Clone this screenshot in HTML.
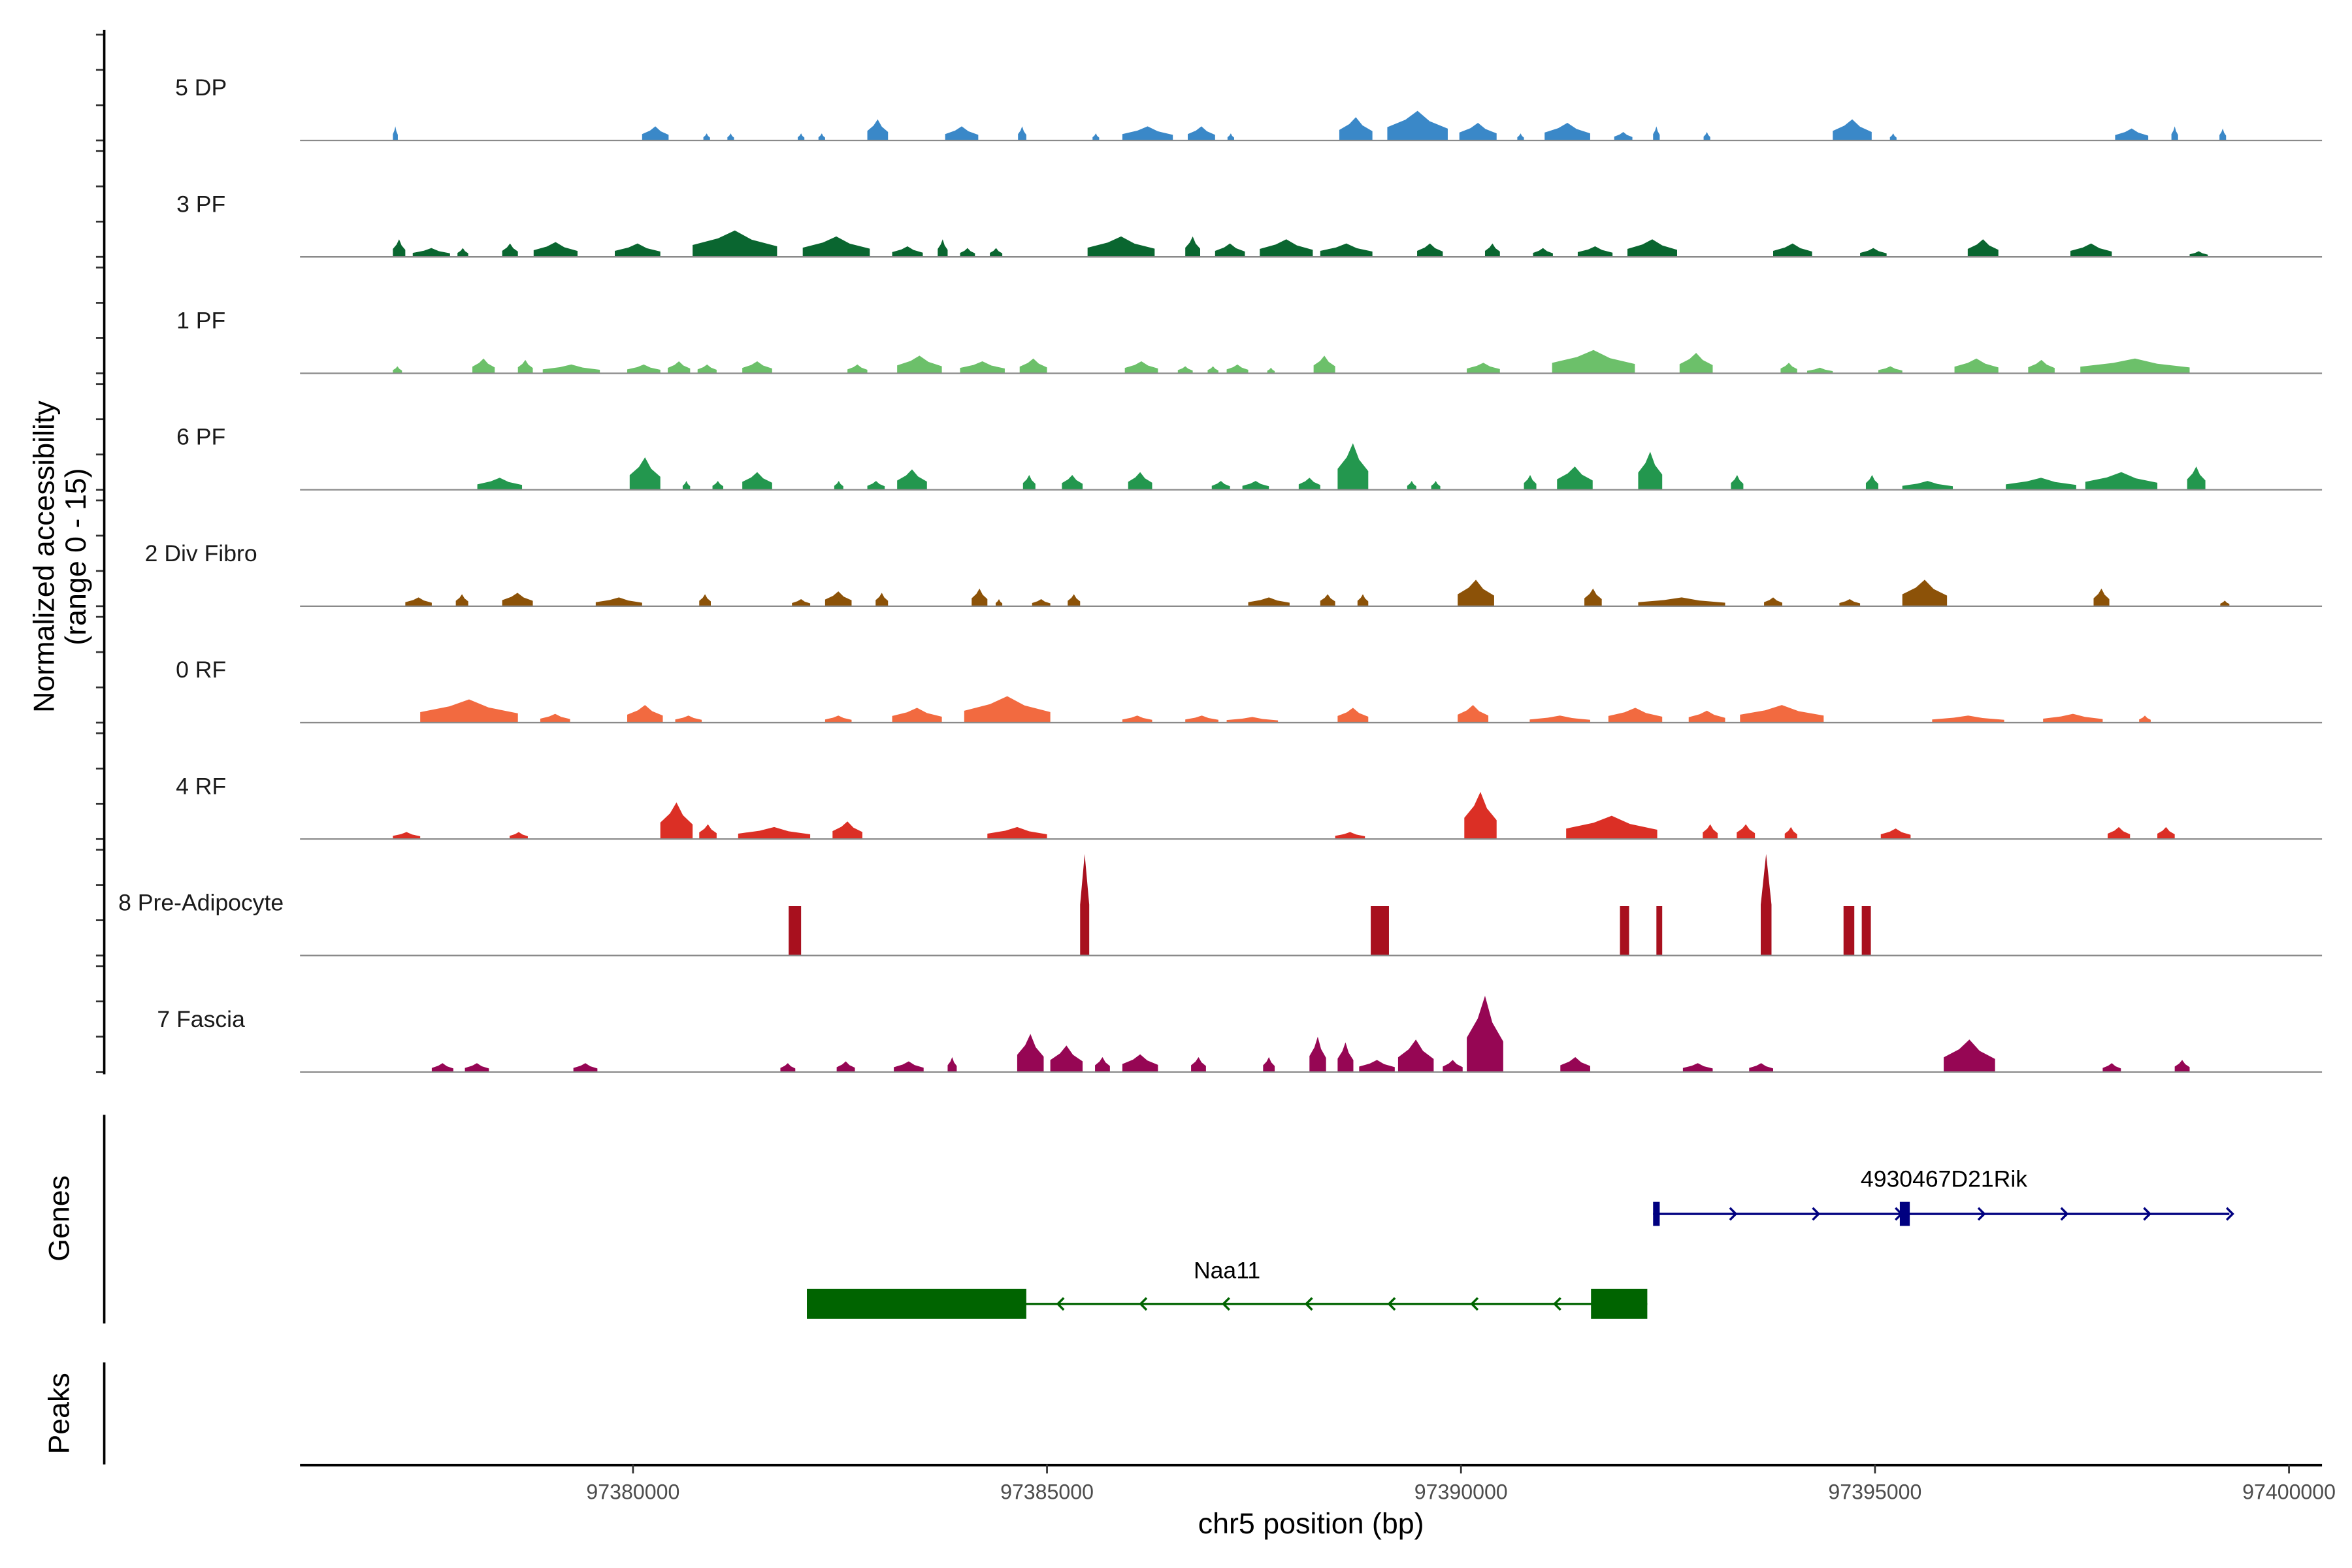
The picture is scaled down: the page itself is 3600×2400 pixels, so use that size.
<!DOCTYPE html>
<html><head><meta charset="utf-8"><style>
html,body{margin:0;padding:0;background:#fff;}
svg{display:block;font-family:"Liberation Sans",Arial,sans-serif;}
</style></head><body>
<svg id="chart" width="3600" height="2400" viewBox="0 0 1568 1045" preserveAspectRatio="none" xmlns="http://www.w3.org/2000/svg">
<rect x="0" y="0" width="1568" height="1045" fill="#fff"/>
<g id="tracks"></g>
<g id="axes"></g>
</svg>
<script>
// Track data: peaks as [start kb offset from 97380000, end kb offset, height (0-15 scale)]
const trackNames = ["5 DP","3 PF","1 PF","6 PF","2 Div Fibro","0 RF","4 RF","8 Pre-Adipocyte","7 Fascia"];
const trackColors = ["#3a88c8","#0a6630","#6cc06a","#23974e","#8c5208","#f26a40","#db2f25","#a8101e","#960654"];
const peaks5DP = [[-2.90,-2.84,2],[0.11,0.43,2],[0.85,0.93,1],[1.14,1.22,1],[1.99,2.07,1],[2.24,2.32,1],[2.83,3.08,3],[3.77,4.17,2],[4.65,4.75,2],[5.55,5.63,1],[5.91,6.52,2],[6.70,7.03,2],[7.18,7.26,1],[8.53,8.93,3.3],[9.11,9.84,4.2],[9.98,10.43,2.5],[10.68,10.76,1],[11.01,11.56,2.5],[11.85,12.07,1.2],[12.32,12.40,2],[12.93,13.01,1.2],[14.49,14.96,3],[15.18,15.26,1],[17.90,18.30,1.7],[18.58,18.66,2],[19.16,19.24,1.7]];
const peaks3PF = [[-2.90,-2.75,2.5],[-2.66,-2.21,1.25],[-2.12,-1.99,1.25],[-1.58,-1.39,1.9],[-1.20,-0.67,2.1],[-0.22,0.33,1.9],[0.72,1.74,3.75],[2.05,2.86,2.9],[3.13,3.50,1.5],[3.68,3.80,2.5],[3.95,4.13,1.25],[4.31,4.46,1.25],[5.49,6.30,2.9],[6.67,6.85,2.9],[7.03,7.39,1.9],[7.57,8.21,2.5],[8.30,8.93,1.9],[9.47,9.78,1.9],[10.29,10.47,1.9],[10.87,11.11,1.25],[11.41,11.83,1.5],[12.01,12.61,2.5],[13.77,14.24,1.9],[14.82,15.14,1.25],[16.12,16.49,2.5],[17.36,17.86,1.9],[18.80,19.02,0.8]];
const peaks1PF = [[-2.90,-2.79,1],[-1.94,-1.67,2.1],[-1.39,-1.21,1.9],[-1.09,-0.40,1.25],[-0.07,0.33,1.25],[0.42,0.69,1.7],[0.78,1.01,1.25],[1.32,1.68,1.7],[2.59,2.83,1.25],[3.19,3.73,2.5],[3.95,4.49,1.7],[4.67,5.00,2.1],[5.94,6.34,1.7],[6.58,6.76,1],[6.94,7.07,1],[7.17,7.43,1.25],[7.66,7.75,0.8],[8.22,8.48,2.5],[10.07,10.47,1.5],[11.10,12.10,3.3],[12.64,13.04,2.9],[13.86,14.06,1.5],[14.18,14.49,0.8],[15.04,15.33,1],[15.96,16.49,2.1],[16.85,17.17,1.9],[17.48,18.80,2.1]];
const peaks6PF = [[-1.88,-1.34,1.7],[-0.04,0.33,4.6],[0.60,0.69,1.25],[0.96,1.09,1.25],[1.32,1.68,2.5],[2.43,2.54,1.25],[2.83,3.04,1.25],[3.19,3.55,2.9],[4.71,4.86,2.1],[5.18,5.43,2.1],[5.98,6.27,2.5],[6.99,7.21,1.25],[7.36,7.68,1.25],[8.04,8.30,1.7],[8.51,8.88,6.6],[9.35,9.46,1.25],[9.64,9.75,1.25],[10.76,10.91,2.1],[11.16,11.59,3.3],[12.14,12.43,5.4],[13.26,13.41,2.1],[14.89,15.04,2.1],[15.33,15.94,1.25],[16.58,17.43,1.7],[17.54,18.41,2.5],[18.77,18.99,3.3]];
const peaksDivFibro = [[-2.75,-2.43,1.25],[-2.14,-1.99,1.7],[-1.58,-1.21,1.9],[-0.45,0.11,1.25],[0.80,0.94,1.7],[1.92,2.14,1],[2.32,2.64,2.1],[2.93,3.08,1.9],[4.09,4.28,2.5],[4.38,4.46,1],[4.82,5.04,1],[5.25,5.40,1.7],[7.43,7.93,1.25],[8.30,8.48,1.7],[8.75,8.88,1.7],[9.96,10.40,3.75],[11.49,11.70,2.5],[12.14,13.19,1.25],[13.66,13.88,1.25],[14.57,14.82,1],[15.33,15.87,3.75],[17.64,17.83,2.5],[19.17,19.28,0.8]];
const peaks0RF = [[-2.57,-1.39,3.3],[-1.12,-0.76,1.25],[-0.07,0.36,2.5],[0.51,0.83,1],[2.32,2.64,1],[3.13,3.73,2.1],[4.00,5.04,3.75],[5.91,6.27,1],[6.67,7.07,1],[7.17,7.79,0.8],[8.51,8.88,2.1],[9.96,10.33,2.5],[10.83,11.56,1],[11.78,12.43,2.1],[12.75,13.19,1.7],[13.37,14.38,2.5],[15.69,16.56,1],[17.03,17.75,1.25],[18.19,18.33,1]];
const peaks4RF = [[-2.90,-2.57,1],[-1.49,-1.27,1],[0.33,0.72,5.2],[0.80,1.01,2.1],[1.27,2.14,1.7],[2.41,2.77,2.5],[4.28,5.00,1.7],[8.48,8.84,1],[10.04,10.43,6.7],[11.27,12.37,3.3],[12.92,13.10,2.1],[13.33,13.55,2.1],[13.91,14.06,1.7],[15.07,15.43,1.5],[17.81,18.08,1.7],[18.41,18.62,1.7]];
const peaksPreAdipo = [[1.88,2.03,7],[5.40,5.51,14.4],[8.91,9.13,7],[11.92,12.03,7],[12.36,12.43,7],[13.62,13.75,14.4],[14.62,14.75,7],[14.84,14.95,7]];
const peaksFascia = [[-2.43,-2.17,1.25],[-2.03,-1.74,1.25],[-0.72,-0.43,1.25],[1.78,1.96,1.25],[2.46,2.68,1.5],[3.15,3.51,1.5],[3.80,3.91,2.1],[4.64,4.96,5.4],[5.04,5.43,3.75],[5.58,5.76,2.1],[5.91,6.34,2.5],[6.74,6.92,2.1],[7.61,7.75,2.1],[8.17,8.37,5],[8.51,8.70,4.2],[8.77,9.20,1.7],[9.24,9.67,4.6],[9.78,10.02,1.7],[10.07,10.51,10.8],[11.20,11.56,2.1],[12.68,13.04,1.25],[13.48,13.77,1.25],[15.83,16.45,4.6],[17.75,17.97,1.25],[18.62,18.80,1.7]];
const allPeaks = [peaks5DP,peaks3PF,peaks1PF,peaks6PF,peaksDivFibro,peaks0RF,peaks4RF,peaksPreAdipo,peaksFascia];
const xTickValues = [97380000,97385000,97390000,97395000,97400000];
const xTickLabels = ["97380000","97385000","97390000","97395000","97400000"];
// Genes: [start kb, end kb]
const rikSpan = [12.32, 19.28];
const rikExons = [[12.32,12.40],[15.30,15.42]];
const naaSpan = [2.10, 12.25];
const naaExons = [[2.10,4.75],[11.57,12.25]];

const NS = "http://www.w3.org/2000/svg";
const svg = document.getElementById('chart');
const tracksG = document.getElementById('tracks');
const axesG = document.getElementById('axes');
function xs(kb){ return 422 + kb*55.2; }
function xbp(bp){ return xs((bp-97380000)/1000); }
const trackTop0 = 93.6, trackStep = 77.6, pxPerUnit = 4.7;
function baseY(i){ return trackTop0 + i*trackStep; }
function yv(i,h){ return baseY(i) - h*pxPerUnit; }
function mk(tag, attrs, parent){
  const e = document.createElementNS(NS, tag);
  for (const k in attrs) e.setAttribute(k, attrs[k]);
  parent.appendChild(e); return e;
}

trackNames.forEach((name,i)=>{
  const g = mk('g',{},tracksG);
  
  
  const lbl = mk('text',{x:134,y:baseY(i)-30,'text-anchor':'middle','font-size':15.5,fill:'#1a1a1a'},g);
  lbl.textContent = name;
  
  
  allPeaks[i].forEach(p=>{
    const x0 = xs(p[0]), x1 = xs(p[1]), b = baseY(i), t = yv(i,p[2]);
    let pts;
    if (i === 7) {
      const m = (x0+x1)/2;
      pts = p[2] > 10 ? [[x0,b],[x0,yv(i,p[2]*0.5)],[m,t],[x1,yv(i,p[2]*0.5)],[x1,b]] : [[x0,b],[x0,t],[x1,t],[x1,b]];
    } else {
      const m = (x0+x1)/2, w = x1-x0;
      pts = [[x0,b],[x0,yv(i,p[2]*0.45)],[x0+w*0.3,yv(i,p[2]*0.7)],[m,t],[x1-w*0.3,yv(i,p[2]*0.65)],[x1,yv(i,p[2]*0.4)],[x1,b]];
    }
    const poly = mk('polygon',{points:pts.map(q=>q[0].toFixed(2)+','+q[1].toFixed(2)).join(' '),fill:trackColors[i]},g);
    
    
  });
  const bl = mk('line',{x1:200,x2:1548,y1:baseY(i),y2:baseY(i),stroke:'#8a8a8a','stroke-width':1},g);
  
  
  for (let k=0;k<4;k++){
    const tk = mk('line',{x1:64,x2:69,y1:baseY(i)-k*23.5,y2:baseY(i)-k*23.5,stroke:'#333','stroke-width':1.2},axesG);
    
    
  }
});

// left axis
const la = mk('line',{x1:69.5,x2:69.5,y1:20,y2:716,stroke:'#000','stroke-width':1.6},axesG);


const yt1 = mk('text',{x:0,y:0,'text-anchor':'middle','font-size':19.5,fill:'#000',transform:'translate(36,371) rotate(-90)'},axesG);
yt1.textContent = 'Normalized accessibility';


const yt2 = mk('text',{x:0,y:0,'text-anchor':'middle','font-size':19.5,fill:'#000',transform:'translate(57,371) rotate(-90)'},axesG);
yt2.textContent = '(range 0 - 15)';



// genes panel
const ga = mk('line',{x1:69.5,x2:69.5,y1:743,y2:882,stroke:'#000','stroke-width':1.6},axesG);


const gl = mk('text',{'text-anchor':'middle','font-size':19.5,fill:'#000',transform:'translate(46,812) rotate(-90)'},axesG);
gl.textContent = 'Genes';


const pa = mk('line',{x1:69.5,x2:69.5,y1:908,y2:976,stroke:'#000','stroke-width':1.6},axesG);


const pl = mk('text',{'text-anchor':'middle','font-size':19.5,fill:'#000',transform:'translate(46,942) rotate(-90)'},axesG);
pl.textContent = 'Peaks';



function drawGene(name, span, exons, y, color, dir, exH, labelY){
  const g = mk('g',{},axesG);
  
  
  mk('line',{x1:xs(span[0]),x2:xs(span[1]),y1:y,y2:y,stroke:color,'stroke-width':1.5},g);
  for (let k = span[0]+1.0; k <= span[1]+0.05; k += 1.0){
    let d;
    if (dir>0){ const x = xs(k); d = `M${x-4},${y-4} L${x},${y} L${x-4},${y+4}`; }
    else { const x = xs(k-0.97); d = `M${x+4},${y-4} L${x},${y} L${x+4},${y+4}`; }
    mk('path',{d:d,stroke:color,'stroke-width':1.5,fill:'none'},g);
  }
  exons.forEach(e=>{
    const r = mk('rect',{x:xs(e[0]),y:y-exH/2,width:xs(e[1])-xs(e[0]),height:exH,fill:color},g);
    
    
  });
  const t = mk('text',{x:labelY[0],y:labelY[1],'text-anchor':'middle','font-size':15.5,fill:'#000'},g);
  t.textContent = name;
  
  
}
drawGene('4930467D21Rik', rikSpan, rikExons, 809, '#000080', 1, 16, [1296,791]);
drawGene('Naa11', naaSpan, naaExons, 869, '#006400', -1, 20, [818,852]);

// x axis
const xa = mk('line',{x1:200,x2:1548,y1:976.5,y2:976.5,stroke:'#000','stroke-width':1.6},axesG);


xTickValues.forEach((v,i)=>{
  const x = xbp(v);
  const tk = mk('line',{x1:x,x2:x,y1:976,y2:982,stroke:'#333','stroke-width':1.2},axesG);
  
  
  const t = mk('text',{x:x,y:999,'text-anchor':'middle','font-size':14,fill:'#4d4d4d'},axesG);
  t.textContent = xTickLabels[i];
  
  
});
const xt = mk('text',{x:874,y:1022,'text-anchor':'middle','font-size':19.5,fill:'#000'},axesG);
xt.textContent = 'chr5 position (bp)';


</script>
</body></html>
